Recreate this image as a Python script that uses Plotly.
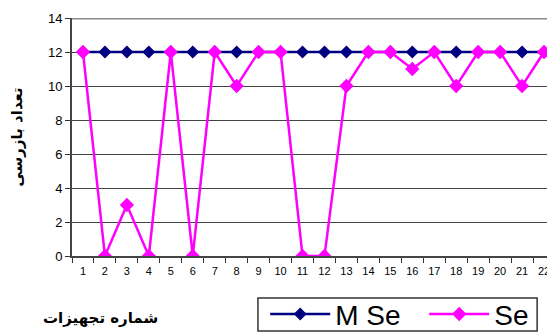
import plotly.graph_objects as go

categories = [str(i) for i in range(1, 23)]
m_se = [12] * 22
se = [12, 0, 3, 0, 12, 0, 12, 10, 12, 12, 0, 0, 10, 12, 12, 11, 12, 10, 12, 12, 10, 12]
y_ticks = [0, 2, 4, 6, 8, 10, 12, 14]

fig = go.Figure()
fig.add_trace(go.Scatter(x=categories, y=m_se, name="M Se", mode="lines+markers",
                         line=dict(color="#000080", width=2.5),
                         marker=dict(symbol="diamond", size=10, color="#000080")))
fig.add_trace(go.Scatter(x=categories, y=se, name="Se", mode="lines+markers",
                         line=dict(color="#FF00FF", width=2.5),
                         marker=dict(symbol="diamond", size=11, color="#FF00FF")))

fig.add_shape(type="line", xref="paper", yref="y", x0=0, x1=1, y0=14, y1=14,
              line=dict(color="#888888", width=3), layer="below")
# legend frame
fig.add_shape(type="rect", xref="paper", yref="paper", x0=0.385, x1=0.963,
              y0=-0.315, y1=-0.176, line=dict(color="#333333", width=1.5))

fig.update_layout(
    width=547, height=327,
    margin=dict(l=64, r=0, t=10, b=79, autoexpand=False),
    paper_bgcolor="white", plot_bgcolor="white",
    font=dict(family="Liberation Sans, Arial, sans-serif", color="black", size=11),
    showlegend=True,
    legend=dict(orientation="h", x=0.40, xanchor="left", y=-0.245, yanchor="middle",
                borderwidth=0, bgcolor="rgba(0,0,0,0)",
                font=dict(size=28, family="Liberation Sans, Arial, sans-serif"),
                entrywidth=84, itemwidth=60, tracegroupgap=0),
    xaxis=dict(type="category", range=[-0.5, 21.5], showgrid=False,
               ticks="outside", tickson="boundaries", ticklen=5, tickcolor="#333",
               showline=True, linecolor="#444", linewidth=2,
               ticklabelstandoff=4, tickfont=dict(size=11)),
    yaxis=dict(range=[0, 14], tickvals=y_ticks, showgrid=True, gridcolor="#444444",
               gridwidth=1, ticks="outside", ticklen=5, tickcolor="#333",
               showline=True, linecolor="#444", linewidth=2, zeroline=False,
               tickfont=dict(size=13),
               title=dict(text="تعداد بازرسی", standoff=24,
                          font=dict(size=15, family="DejaVu Sans, sans-serif", weight="bold"))),
    annotations=[dict(text="<b>شماره تجهیزات</b>", xref="paper", yref="paper",
                      x=0.058, y=-0.26, xanchor="center", yanchor="middle", showarrow=False,
                      font=dict(size=15, family="DejaVu Sans, sans-serif"))],
)

fig.write_html("out.html")
